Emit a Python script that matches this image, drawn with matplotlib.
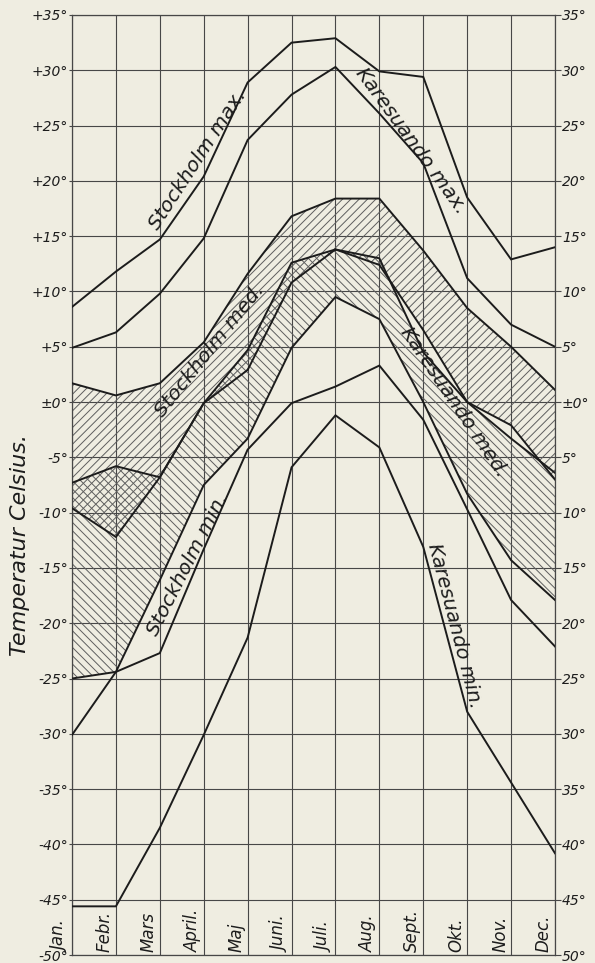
import matplotlib
matplotlib.use("Agg")
import matplotlib.pyplot as plt
import matplotlib.transforms as mtransforms
import numpy as np

# ---------------- data ----------------
months = ["Jan.", "Febr.", "Mars", "April.", "Maj", "Juni.", "Juli.", "Aug.", "Sept.", "Okt.", "Nov.", "Dec."]

stockholm_max = [8.6, 11.8, 14.7, 20.4, 28.9, 32.5, 32.9, 29.9, 29.4, 18.5, 12.9, 14.0]
karesuando_max = [4.9, 6.3, 9.8, 14.8, 23.7, 27.8, 30.3, 26.1, 21.6, 11.2, 7.0, 5.0]

stockholm_med_upper = [1.7, 0.6, 1.7, 5.4, 11.6, 16.8, 18.4, 18.4, 13.7, 8.5, 5.0, 1.1]
stockholm_med_lower = [-9.6, -12.2, -6.8, -0.1, 2.9, 10.8, 13.8, 12.4, 6.5, 0.0, -2.1, -7.0]

karesuando_med_upper = [-7.3, -5.8, -6.8, -0.1, 4.7, 12.6, 13.8, 13.0, 4.5, 0.0, -3.3, -6.4]
karesuando_med_lower = [-25.0, -24.4, -16.1, -7.5, -3.3, 4.9, 9.5, 7.5, 0.0, -8.3, -14.3, -17.9]

stockholm_min = [-30.1, -24.4, -22.7, -13.3, -4.3, -0.1, 1.4, 3.3, -1.6, -9.7, -17.9, -22.1]
karesuando_min = [-45.6, -45.6, -38.5, -30.1, -21.3, -5.9, -1.2, -4.1, -13.1, -28.0, -34.4, -40.8]

yticks = list(range(-50, 36, 5))
left_labels = ["-50°", "-45°", "-40°", "-35°", "-30°", "-25°", "-20°", "-15°", "-10°", "-5°",
               "±0°", "+5°", "+10°", "+15°", "+20°", "+25°", "+30°", "+35°"]
right_labels = ["50°", "45°", "40°", "35°", "30°", "25°", "20°", "15°", "10°", "5°",
                "±0°", "5°", "10°", "15°", "20°", "25°", "30°", "35°"]

# ---------------- style ----------------
PAPER = "#efede1"
INK = "#1c1c1c"
GRID = "#474747"
HATCH = "#5e5e5e"
plt.rcParams["font.family"] = ["DejaVu Sans"]
plt.rcParams["hatch.linewidth"] = 0.7

W, H = 595, 963
fig = plt.figure(figsize=(W / 100, H / 100), dpi=100, facecolor=PAPER)
L, R, T, B = 72, 555, 15, 955
ax = fig.add_axes([L / W, 1 - B / H, (R - L) / W, (B - T) / H])
ax.set_facecolor(PAPER)

x = np.arange(len(months))
ax.set_xlim(0, len(months) - 1)
ax.set_ylim(-50, 35)

# grid
for xi in x:
    ax.axvline(xi, color=GRID, lw=0.8, zorder=1)
for yv in yticks:
    ax.axhline(yv, color=GRID, lw=0.8, zorder=1)

# hatched bands
s_up = np.array(stockholm_med_upper)
s_lo = np.array(stockholm_med_lower)
k_up = np.array(karesuando_med_upper)
k_lo = np.array(karesuando_med_lower)

ax.fill_between(x, s_lo, s_up, facecolor="none", edgecolor=HATCH, hatch="////", linewidth=0, zorder=2)
ax.fill_between(x, k_lo, k_up, facecolor="none", edgecolor=HATCH, hatch="\\\\\\\\", linewidth=0, zorder=2)

lw = 1.4
for series in [stockholm_max, karesuando_max, stockholm_med_upper, stockholm_med_lower,
               karesuando_med_upper, karesuando_med_lower, stockholm_min, karesuando_min]:
    ax.plot(x, series, color=INK, lw=lw, zorder=4, solid_joinstyle="miter")

# spines / ticks
for s in ax.spines.values():
    s.set_color(GRID)
    s.set_linewidth(0.9)
ax.set_xticks([])
ax.set_yticks(yticks)
ax.set_yticklabels(left_labels, fontsize=10, style="italic", color=INK)
ax.tick_params(axis="y", which="both", left=True, length=2, pad=1, color=GRID)

ax2 = ax.twinx()
ax2.set_ylim(-50, 35)
ax2.set_yticks(yticks)
ax2.set_yticklabels(right_labels, fontsize=10, style="italic", color=INK)
ax2.tick_params(axis="y", length=4, pad=1, color=GRID)
for s in ax2.spines.values():
    s.set_visible(False)

# month labels (rotated, just left of each gridline, in the lowest cell)
off = mtransforms.offset_copy(ax.transData, fig=fig, x=-2, y=0, units="dots")
for xi, m in zip(x, months):
    ax.text(xi, -49.7, m, rotation=90, ha="right", va="bottom", fontsize=12,
            style="italic", color=INK, transform=off, clip_on=False, zorder=5)

# axis title
fig.text(20 / W, 1 - 545 / H, "Temperatur Celsius.", rotation=90, ha="center", va="center",
         fontsize=16, style="italic", color=INK)


def px2data(px, py):
    return (px - L) / ((R - L) / (len(months) - 1)), 35 - (py - T) / ((B - T) / 85)


labels = [
    ("Stockholm max.", 198, 160, 57),
    ("Karesuando max.", 411, 141, -54),
    ("Stockholm med.", 210, 351, 51.5),
    ("Karesuando med.", 454, 402, -56),
    ("Stockholm min.", 188, 565, 63),
    ("Karesuando min.", 455, 626, -75.5),
]
for txt, px, py, ang in labels:
    dx, dy = px2data(px, py)
    ax.text(dx, dy, txt, rotation=ang, rotation_mode="anchor", ha="center", va="center",
            fontsize=14.5, style="italic", color=INK, zorder=6)

fig.savefig("out.png", dpi=100, facecolor=PAPER)
